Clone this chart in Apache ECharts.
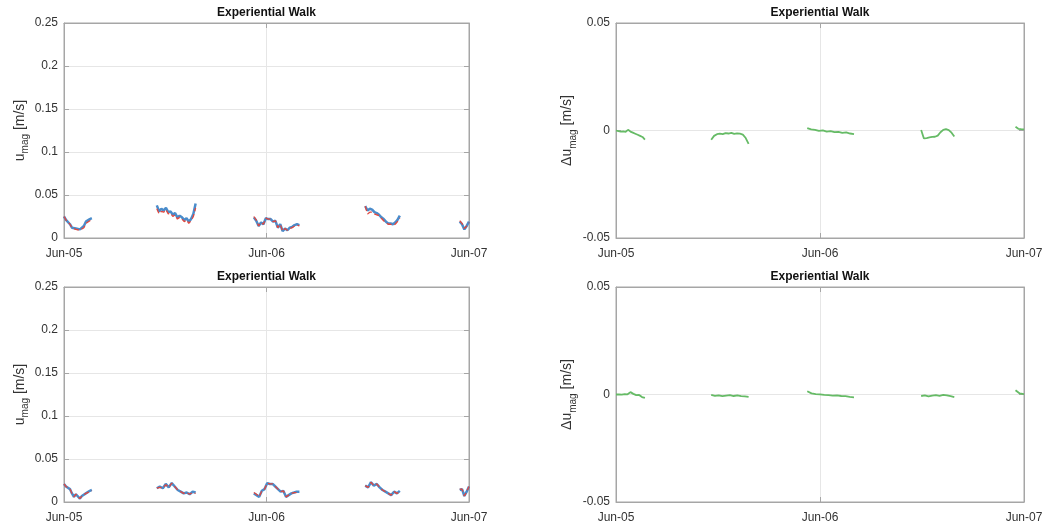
<!DOCTYPE html>
<html>
<head>
<meta charset="utf-8">
<script src="https://cdn.jsdelivr.net/npm/echarts@6/dist/echarts.min.js"></script>
<style>
  html, body { margin: 0; padding: 0; background: #fff; }
  #chart { width: 1057px; height: 528px; }
</style>
</head>
<body>
<div id="chart"></div>
<script>
// x axis is hours since Jun-05 00:00
const tickLabels = ['Jun-05', 'Jun-06', 'Jun-07'];
const titleText = 'Experiential Walk';

// start/end hour of each measurement session
const segHoursU = [[0, 3.3], [11.0, 15.6], [22.5, 27.9], [35.7, 39.8], [46.9, 48]];
const segHoursDu = [[0, 3.4], [11.2, 15.6], [22.5, 28.0], [35.9, 39.8], [47.0, 48]];

// top row
const uTopMeas = [
  [0.025, 0.021, 0.019, 0.016, 0.012, 0.013, 0.011, 0.012, 0.010, 0.011, 0.014, 0.019, 0.021, 0.022, 0.023],
  [0.038, 0.031, 0.034, 0.032, 0.035, 0.030, 0.031, 0.027, 0.029, 0.024, 0.026, 0.024, 0.021, 0.023, 0.019, 0.022, 0.028, 0.040],
  [0.024, 0.020, 0.014, 0.018, 0.016, 0.023, 0.022, 0.022, 0.019, 0.020, 0.012, 0.016, 0.008, 0.011, 0.009, 0.012, 0.013, 0.015, 0.016, 0.015],
  [0.037, 0.032, 0.034, 0.033, 0.030, 0.029, 0.027, 0.024, 0.022, 0.019, 0.017, 0.017, 0.016, 0.018, 0.021, 0.026],
  [0.019, 0.016, 0.010, 0.014, 0.019]
];
const uTopModel = [
  [0.025, 0.021, 0.019, 0.016, 0.012, 0.012, 0.010, 0.011, 0.009, 0.010, 0.012, 0.017, 0.019, 0.020, 0.019],
  [0.034, 0.028, 0.031, 0.030, 0.033, 0.028, 0.029, 0.025, 0.027, 0.022, 0.024, 0.022, 0.019, 0.021, 0.017, 0.020, 0.025, 0.035],
  [0.025, 0.021, 0.014, 0.018, 0.016, 0.023, 0.022, 0.022, 0.019, 0.020, 0.012, 0.016, 0.008, 0.011, 0.009, 0.011, 0.012, 0.014, 0.015, 0.014],
  [0.037, 0.028, 0.030, 0.030, 0.028, 0.027, 0.026, 0.023, 0.020, 0.018, 0.016, 0.016, 0.015, 0.016, 0.019, 0.023],
  [0.020, 0.017, 0.011, 0.014, 0.018]
];
const duTop = [
  [0.0000, -0.0003, -0.0005, -0.0004, -0.0006, 0.0003, -0.0005, -0.0010, -0.0015, -0.0020, -0.0025, -0.0030, -0.0042],
  [-0.0043, -0.0025, -0.0017, -0.0015, -0.0017, -0.0012, -0.0014, -0.0011, -0.0016, -0.0013, -0.0015, -0.0019, -0.0035, -0.0062],
  [0.0011, 0.0005, 0.0003, -0.0002, 0.0001, -0.0005, -0.0003, -0.0008, -0.0006, -0.0011, -0.0009, -0.0014, -0.0017],
  [0.0002, -0.0037, -0.0035, -0.0032, -0.0030, -0.0029, -0.0024, -0.0008, 0.0003, 0.0006, 0.0002, -0.0010, -0.0028],
  [0.0017, 0.0008, 0.0006, 0.0005]
];

// bottom row
const uBotMeas = [
  [0.021, 0.018, 0.017, 0.015, 0.010, 0.006, 0.009, 0.007, 0.004, 0.007, 0.006, 0.010, 0.012, 0.013, 0.014],
  [0.016, 0.018, 0.016, 0.021, 0.017, 0.022, 0.018, 0.014, 0.012, 0.010, 0.011, 0.009, 0.012, 0.011],
  [0.010, 0.008, 0.006, 0.013, 0.015, 0.022, 0.021, 0.021, 0.018, 0.015, 0.012, 0.013, 0.006, 0.008, 0.010, 0.011, 0.012, 0.012],
  [0.019, 0.017, 0.023, 0.019, 0.021, 0.017, 0.014, 0.012, 0.010, 0.008, 0.012, 0.010, 0.013],
  [0.014, 0.015, 0.007, 0.012, 0.018]
];
const uBotModel = [
  [0.021, 0.018, 0.017, 0.015, 0.010, 0.006, 0.009, 0.007, 0.004, 0.007, 0.006, 0.010, 0.012, 0.012, 0.013],
  [0.016, 0.017, 0.016, 0.020, 0.017, 0.022, 0.018, 0.014, 0.012, 0.010, 0.011, 0.009, 0.011, 0.010],
  [0.011, 0.009, 0.006, 0.013, 0.015, 0.022, 0.021, 0.021, 0.018, 0.015, 0.012, 0.013, 0.006, 0.008, 0.010, 0.011, 0.011, 0.011],
  [0.019, 0.017, 0.023, 0.019, 0.021, 0.017, 0.014, 0.012, 0.010, 0.008, 0.012, 0.010, 0.012],
  [0.015, 0.015, 0.007, 0.012, 0.018]
];
const duBot = [
  [0.0000, 0.0001, -0.0001, 0.0002, 0.0001, 0.0011, 0.0003, -0.0003, -0.0002, -0.0012, -0.0016],
  [-0.0002, -0.0006, -0.0004, -0.0008, -0.0005, -0.0003, -0.0007, -0.0004, -0.0008, -0.0009, -0.0011],
  [0.0015, 0.0005, 0.0002, 0.0001, -0.0002, -0.0003, -0.0005, -0.0004, -0.0007, -0.0008, -0.0011, -0.0013],
  [-0.0007, -0.0004, -0.0009, -0.0005, -0.0003, -0.0006, -0.0002, -0.0004, -0.0008, -0.0012],
  [0.0020, 0.0005, 0.0002]
];

const font = '"Liberation Sans", Arial, Helvetica, sans-serif';
const txt = '#333333';
const axisCol = '#a6a6a6';
const gridCol = '#e6e6e6';

// spread each session's samples evenly over its hours, with a gap between sessions
const toPoints = (segs, hours) => {
  const out = [];
  segs.forEach((vals, s) => {
    const [h0, h1] = hours[s];
    vals.forEach((v, i) => {
      out.push([h0 + (h1 - h0) * i / (vals.length - 1), v]);
    });
    if (s < segs.length - 1) out.push([(h1 + hours[s + 1][0]) / 2, null]);
  });
  return out;
};

const grids = [
  { left: 64, top: 23, width: 405, height: 215 },
  { left: 616, top: 23, width: 408, height: 215 },
  { left: 64, top: 287, width: 405, height: 215 },
  { left: 616, top: 287, width: 408, height: 215 }
];

const xAxes = [];
const yAxes = [];
grids.forEach((g, i) => {
  xAxes.push({
    type: 'value', gridIndex: i, min: 0, max: 48, interval: 24,
    axisLine: { onZero: false, lineStyle: { color: axisCol } },
    axisTick: { inside: true, length: 5, lineStyle: { color: axisCol } },
    axisLabel: { color: txt, fontFamily: font, fontSize: 12, margin: 10,
      formatter: v => tickLabels[Math.round(v / 24)] },
    splitLine: { show: true, lineStyle: { color: gridCol } }
  });
  xAxes.push({
    type: 'value', gridIndex: i, min: 0, max: 48, interval: 24, position: 'top',
    axisLine: { onZero: false, lineStyle: { color: axisCol } },
    axisTick: { inside: true, length: 5, lineStyle: { color: axisCol } },
    axisLabel: { show: false }, splitLine: { show: false }
  });
  const isDiff = i % 2 === 1;
  yAxes.push({
    type: 'value', gridIndex: i,
    min: isDiff ? -0.05 : 0, max: isDiff ? 0.05 : 0.25, interval: 0.05,
    name: isDiff ? '{a|\u0394u}{b|mag}{a| [m/s]}' : '{a|u}{b|mag}{a| [m/s]}',
    nameLocation: 'middle', nameRotate: 90, nameGap: isDiff ? 38 : 33,
    nameTextStyle: {
      rich: {
        a: { fontSize: 14, color: txt, fontFamily: font, lineHeight: 22, verticalAlign: 'middle' },
        b: { fontSize: 10, color: txt, fontFamily: font, lineHeight: 10, verticalAlign: 'bottom' }
      }
    },
    axisLine: { show: true, onZero: false, lineStyle: { color: axisCol } },
    axisTick: { show: true, inside: true, length: 5, lineStyle: { color: axisCol } },
    axisLabel: { color: txt, fontFamily: font, fontSize: 12, margin: 6 },
    splitLine: { show: true, lineStyle: { color: gridCol } }
  });
  yAxes.push({
    type: 'value', gridIndex: i, position: 'right',
    min: isDiff ? -0.05 : 0, max: isDiff ? 0.05 : 0.25, interval: 0.05,
    axisLine: { show: true, onZero: false, lineStyle: { color: axisCol } },
    axisTick: { show: true, inside: true, length: 5, lineStyle: { color: axisCol } },
    axisLabel: { show: false }, splitLine: { show: false }
  });
});

const line = (data, axis, color, width, dashed) => ({
  type: 'line', data, xAxisIndex: axis * 2, yAxisIndex: axis * 2,
  showSymbol: false, connectNulls: false, animation: false,
  lineStyle: { color, width, type: dashed ? [5, 3] : 'solid' }
});

const series = [
  line(toPoints(uTopMeas, segHoursU), 0, '#4a8ccb', 2.5, false),
  line(toPoints(uTopModel, segHoursU), 0, '#e2463d', 1.3, true),
  line(toPoints(duTop, segHoursDu), 1, '#66bb66', 1.8, false),
  line(toPoints(uBotMeas, segHoursU), 2, '#4a8ccb', 2.5, false),
  line(toPoints(uBotModel, segHoursU), 2, '#e2463d', 1.3, true),
  line(toPoints(duBot, segHoursDu), 3, '#66bb66', 1.8, false)
];

const titles = grids.map(g => ({
  text: titleText, left: g.left + g.width / 2, top: g.top - 16, textAlign: 'center',
  padding: 0,
  textStyle: { fontFamily: font, fontSize: 12, fontWeight: 'bold', color: '#111' }
}));

const chart = echarts.init(document.getElementById('chart'));
chart.setOption({
  backgroundColor: '#ffffff',
  animation: false,
  title: titles,
  grid: grids.map(g => Object.assign({ show: true, borderColor: axisCol, borderWidth: 1, containLabel: false }, g)),
  xAxis: xAxes,
  yAxis: yAxes,
  series
});
</script>
</body>
</html>
